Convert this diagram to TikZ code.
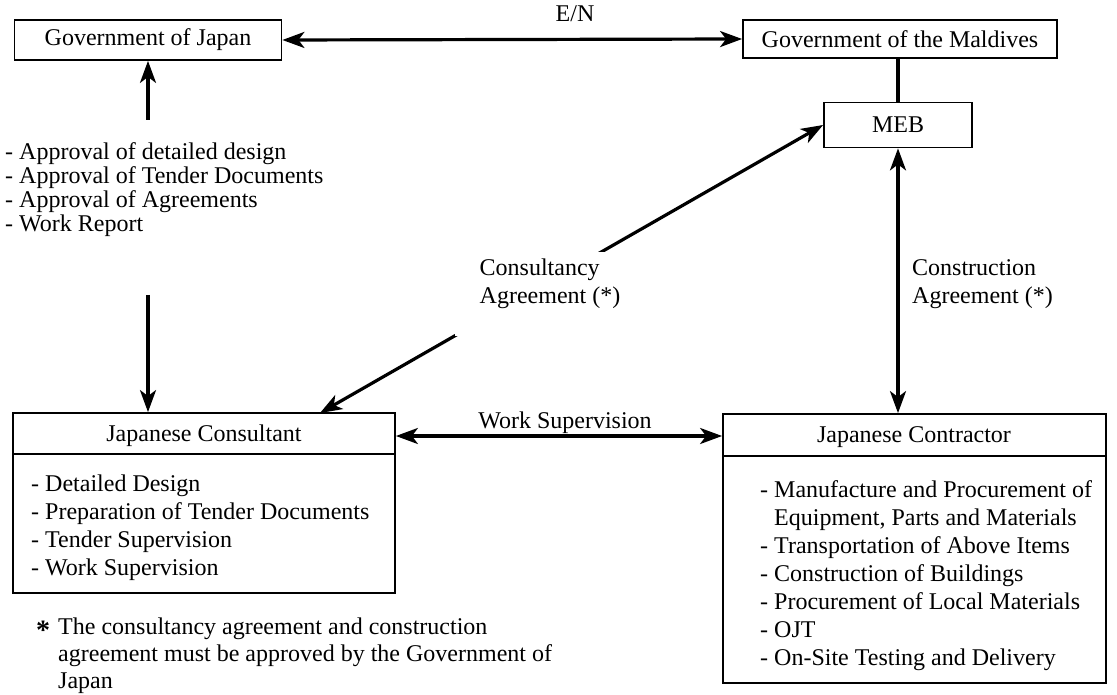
\documentclass[tikz,border=0pt]{standalone}
\usepackage{fontspec}
\setmainfont{Liberation Serif}
\usetikzlibrary{arrows.meta,calc}
\begin{document}
\begin{tikzpicture}[x=1pt,y=-1pt,
  every node/.style={font=\fontsize{24}{28}\selectfont, inner sep=0pt},
  box/.style={draw, line width=1.8pt},
  sep/.style={line width=1.8pt},
  tip/.tip={Stealth[length=22pt,width=16pt,inset=6pt]},
  conn/.style={line width=3.2pt, -tip},
  dconn/.style={line width=3.2pt, tip-tip},
  lst/.style={align=left, anchor=north west}]
\useasboundingbox (0,0) rectangle (1117,695);

% top boxes
\node[box, minimum width=267, minimum height=40] (goj) at (148,40) {Government of Japan};
\node[box, minimum width=314, minimum height=38] (gom) at (900,39) {Government of the Maldives};
\node[box, minimum width=148, minimum height=45] (meb) at (898,125) {MEB};
\node (en) at (575,14) {E/N};

% consultant
\node[box, minimum width=382, minimum height=180] (cons) at (204,503) {};
\node (consT) at (204,436) {Japanese Consultant};
\draw[sep] ($(cons.north west)+(0,42)$) -- ($(cons.north east)+(0,42)$);
\node[lst] (consL) at (31,475) {- Detailed Design\\- Preparation of Tender Documents\\- Tender Supervision\\- Work Supervision};

% contractor
\node[box, minimum width=383, minimum height=269] (contr) at (914.5,548.5) {};
\node (contrT) at (914,437) {Japanese Contractor};
\draw[sep] ($(contr.north west)+(0,43)$) -- ($(contr.north east)+(0,43)$);
\node[lst] (contrL) at (760,480) {- Manufacture and Procurement of\\\hphantom{-~}Equipment, Parts and Materials\\- Transportation of Above Items\\- Construction of Buildings\\- Procurement of Local Materials\\- OJT\\- On-Site Testing and Delivery};

% approvals text
\node[lst, font=\fontsize{24}{24}\selectfont] (appr) at (5,142) {- Approval of detailed design\\- Approval of Tender Documents\\- Approval of Agreements\\- Work Report};

% connectors
\draw[dconn] (goj.east) -- (gom.west);
\draw[line width=3.2pt] (gom.south -| meb.north) -- (meb.north);
\coordinate (a1) at (148,120);
\draw[conn] (a1) -- (a1 |- goj.south);
\coordinate (a2) at (148,295);
\draw[conn] (a2) -- (a2 |- cons.north);
\coordinate (cc) at (320,413);
\draw[dconn] (cc) -- (meb.west);
\coordinate (gapA) at (455,336);
\coordinate (gapB) at (626,252);
\fill[white] (gapA) rectangle (gapB);
\node[align=left] (caL) at (550,284) {Consultancy\\Agreement (*)};
\draw[dconn] (meb.south) -- (meb.south |- contr.north);
\node[align=left, anchor=west] (coL) at (912,284) {Construction\\Agreement (*)};
\draw[dconn] (cons.east |- consT) -- (contr.west |- consT);
\node (ws) at (565,423) {Work Supervision};

% footnote
\node[font=\fontsize{28}{28}\selectfont\bfseries] (star) at (43,630) {*};
\node[lst, font=\fontsize{24}{27}\selectfont] (fn) at (58,618) {The consultancy agreement and construction\\agreement must be approved by the Government of\\Japan};
\end{tikzpicture}
\end{document}
